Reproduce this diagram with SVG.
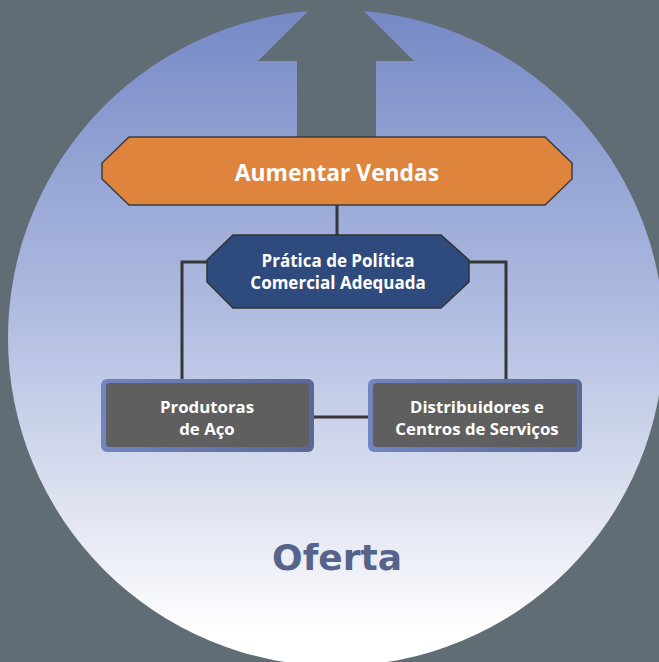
<svg xmlns="http://www.w3.org/2000/svg" width="659" height="662" viewBox="0 0 659 662">
<defs>
<linearGradient id="circ" x1="0" y1="10" x2="0" y2="666" gradientUnits="userSpaceOnUse">
<stop offset="0" stop-color="#7689c6"/>
<stop offset="0.45" stop-color="#aebbe0"/>
<stop offset="0.78" stop-color="#e3e6f2"/>
<stop offset="0.95" stop-color="#ffffff"/>
</linearGradient>
<linearGradient id="frame" x1="0" y1="0" x2="1" y2="0">
<stop offset="0" stop-color="#7185c1"/>
<stop offset="1" stop-color="#5a6896"/>
</linearGradient>
<style>
.bg{fill:#606d75}
.conn{fill:none;stroke:#363636;stroke-width:3}
.hexo{fill:#de843c;stroke:#3c3c3c;stroke-width:1.5}
.hexn{fill:#2f4b7d;stroke:#333;stroke-width:1.5}
.frame{fill:url(#frame)}
.inner{fill:#5f5f5f}
.t{font-family:"Open Sans","DejaVu Sans",sans-serif;font-weight:bold;fill:#fff;text-anchor:middle}
</style>
</defs>
<rect class="bg" x="0" y="0" width="659" height="662"/>
<circle cx="336" cy="338" r="328" fill="url(#circ)"/>
<polygon class="bg" points="297,140 297,61 258,61 336,-17 414,61 376,61 376,140"/>
<g id="connectors">
<line class="conn" x1="337" y1="205" x2="337" y2="236"/>
<polyline class="conn" points="208,262 182,262 182,380"/>
<polyline class="conn" points="468,262 506,262 506,380"/>
<line class="conn" x1="313" y1="417" x2="369" y2="417"/>
</g>
<g id="aumentar">
<polygon class="hexo" points="129,137 545,137 572,163 572,179 545,205 129,205 102,179 102,163"/>
<text class="t" x="337" y="181" font-size="22.8">Aumentar Vendas</text>
</g>
<g id="pratica">
<polygon class="hexn" points="233,235 441,235 469,260 469,282 441,308 233,308 207,282 207,260"/>
<text class="t" x="338" y="267" font-size="17">Prática de Política</text>
<text class="t" x="338" y="289" font-size="17">Comercial Adequada</text>
</g>
<g id="produtoras">
<rect class="frame" x="101" y="379" width="213" height="73" rx="6"/>
<rect class="inner" x="106" y="383" width="203" height="64" rx="4"/>
<text class="t" x="207" y="413" font-size="16.8">Produtoras</text>
<text class="t" x="207" y="435" font-size="16.8">de Aço</text>
</g>
<g id="distribuidores">
<rect class="frame" x="368" y="379" width="214" height="73" rx="6"/>
<rect class="inner" x="373" y="383" width="204" height="64" rx="4"/>
<text class="t" x="477" y="413" font-size="16.8">Distribuidores e</text>
<text class="t" x="477" y="435" font-size="16.8">Centros de Serviços</text>
</g>
<g id="oferta">
<text x="337" y="570" font-family="'DejaVu Sans',sans-serif" font-weight="bold" font-size="36" fill="#56638a" text-anchor="middle">Oferta</text>
</g>
</svg>
